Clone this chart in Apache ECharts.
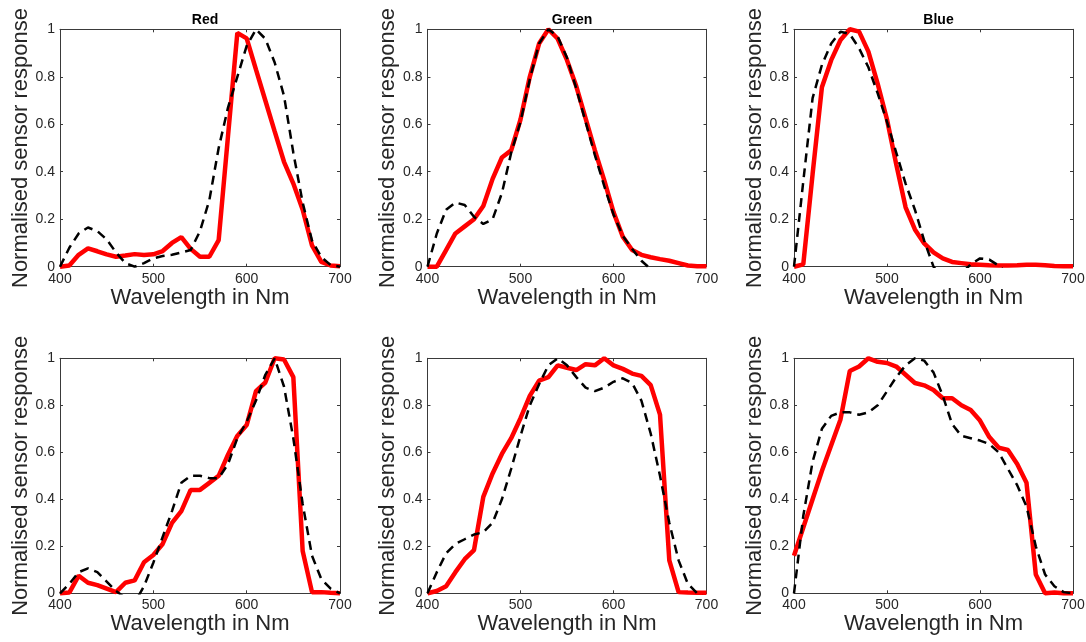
<!DOCTYPE html>
<html>
<head>
<meta charset="utf-8">
<script src="https://cdn.jsdelivr.net/npm/echarts@6/dist/echarts.min.js"></script>
<style>
  html, body { margin: 0; background: #fff; }
  #chart { width: 1086px; height: 642px; }
</style>
</head>
<body>
<div id="chart"></div>
<script>
// wavelengths (nm)
const wavelength = [400, 410, 420, 430, 440, 450, 460, 470, 480, 490, 500, 510, 520, 530, 540, 550,
                    560, 570, 580, 590, 600, 610, 620, 630, 640, 650, 660, 670, 680, 690, 700];

const xTicks = [400, 500, 600, 700];
const yTicks = [0, 0.2, 0.4, 0.6, 0.8, 1];
const titles = ['Red', 'Green', 'Blue'];

// top row - solid red curves
const redTopSolid = [0, 0.005, 0.05, 0.077, 0.065, 0.052, 0.042, 0.047, 0.053, 0.049, 0.052, 0.066, 0.10, 0.125, 0.075, 0.042,
                     0.042, 0.112, 0.55, 0.985, 0.962, 0.83, 0.70, 0.57, 0.442, 0.35, 0.24, 0.09, 0.02, 0.005, 0.002];
const greenTopSolid = [0, 0, 0.07, 0.14, 0.17, 0.20, 0.256, 0.37, 0.46, 0.49, 0.62, 0.80, 0.94, 1.0, 0.96, 0.87,
                       0.76, 0.625, 0.49, 0.365, 0.23, 0.126, 0.07, 0.05, 0.04, 0.032, 0.025, 0.015, 0.005, 0.002, 0.002];
const blueTopSolid = [0, 0.01, 0.39, 0.756, 0.87, 0.955, 1.0, 0.99, 0.906, 0.77, 0.62, 0.43, 0.25, 0.157, 0.098, 0.06,
                      0.035, 0.02, 0.015, 0.01, 0.008, 0.006, 0.005, 0.005, 0.006, 0.008, 0.008, 0.006, 0.003, 0.002, 0.002];

// top row - dashed black curves
const redTopDashed = [0, 0.08, 0.14, 0.165, 0.15, 0.115, 0.06, 0.015, 0.0, 0.015, 0.035, 0.045, 0.05, 0.06, 0.07, 0.15,
                      0.28, 0.50, 0.67, 0.80, 0.93, 1.0, 0.96, 0.86, 0.72, 0.48, 0.27, 0.11, 0.04, 0.007, 0];
const greenTopDashed = [0, 0.14, 0.24, 0.27, 0.26, 0.21, 0.18, 0.20, 0.31, 0.48, 0.61, 0.79, 0.94, 1.0, 0.97, 0.88,
                        0.75, 0.61, 0.47, 0.34, 0.22, 0.13, 0.075, 0.025, -0.01, -0.03, -0.03, -0.03, -0.03, -0.03, -0.03];
const blueTopDashed = [0, 0.36, 0.71, 0.85, 0.94, 0.99, 0.98, 0.92, 0.84, 0.73, 0.61, 0.48, 0.35, 0.24, 0.11, 0.0,
                       -0.05, -0.06, -0.03, 0.01, 0.035, 0.03, 0.005, -0.03, -0.04, -0.04, -0.04, -0.04, -0.04, -0.04, -0.04];

// bottom row - solid red curves
const redBottomSolid = [0, 0.003, 0.075, 0.045, 0.035, 0.02, 0.005, 0.045, 0.055, 0.132, 0.163, 0.21, 0.30, 0.35, 0.44, 0.44,
                        0.47, 0.50, 0.59, 0.67, 0.716, 0.86, 0.897, 1.0, 0.995, 0.92, 0.18, 0.005, 0.005, 0.002, 0.0];
const greenBottomSolid = [0, 0.01, 0.03, 0.09, 0.145, 0.184, 0.41, 0.51, 0.593, 0.66, 0.745, 0.84, 0.905, 0.92, 0.97, 0.96,
                          0.95, 0.975, 0.97, 1.0, 0.97, 0.955, 0.935, 0.925, 0.886, 0.76, 0.14, 0.005, 0.003, 0.002, 0.002];
const blueBottomSolid = [0.16, 0.28, 0.40, 0.52, 0.63, 0.74, 0.946, 0.965, 1.0, 0.985, 0.98, 0.965, 0.93, 0.895, 0.885, 0.865,
                         0.83, 0.83, 0.80, 0.78, 0.735, 0.665, 0.62, 0.61, 0.55, 0.47, 0.08, 0.0, 0.003, 0.0, 0.0];

// bottom row - dashed black curves
const redBottomDashed = [0, 0.04, 0.09, 0.106, 0.09, 0.05, 0.01, -0.02, -0.04, 0.03, 0.13, 0.24, 0.35, 0.47, 0.50, 0.50,
                         0.49, 0.49, 0.55, 0.66, 0.73, 0.82, 0.93, 1.0, 0.88, 0.66, 0.38, 0.16, 0.06, 0.02, 0.0];
const greenBottomDashed = [0, 0.09, 0.17, 0.21, 0.23, 0.25, 0.26, 0.30, 0.40, 0.53, 0.67, 0.80, 0.89, 0.97, 1.0, 0.97,
                           0.92, 0.875, 0.86, 0.875, 0.90, 0.915, 0.895, 0.82, 0.68, 0.50, 0.30, 0.14, 0.04, 0.0, -0.02];
const blueBottomDashed = [0, 0.33, 0.56, 0.70, 0.755, 0.77, 0.77, 0.76, 0.77, 0.80, 0.86, 0.92, 0.97, 1.0, 0.99, 0.94,
                          0.84, 0.72, 0.67, 0.66, 0.65, 0.635, 0.60, 0.53, 0.46, 0.37, 0.20, 0.08, 0.03, 0.005, 0.0];

const panels = [
    [redTopSolid, redTopDashed], [greenTopSolid, greenTopDashed], [blueTopSolid, blueTopDashed],
    [redBottomSolid, redBottomDashed], [greenBottomSolid, greenBottomDashed], [blueBottomSolid, blueBottomDashed]
];

const font = 'Liberation Sans, Arial, Helvetica, sans-serif';
const axisColor = '#3a3a3a';
const textColor = '#262626';

const colLeft = [60, 427.5, 794];
const colWidth = [280, 279, 279];
const rowTop = [29.3, 358.3];
const rowHeight = [237.4, 235];

function pairs(ys) {
    return wavelength.map(function (w, k) { return [w, ys[k]]; });
}

var chartDom = document.getElementById('chart');
var myChart = echarts.init(chartDom);

var grids = [], xAxes = [], yAxes = [], series = [], title = [];

panels.forEach(function (p, i) {
    var col = i % 3, row = Math.floor(i / 3);
    grids.push({
        left: colLeft[col], top: rowTop[row], width: colWidth[col], height: rowHeight[row],
        containLabel: false, outerBoundsMode: 'none'
    });

    var lineCommon = { show: true, onZero: false, lineStyle: { color: axisColor, width: 1 } };
    var tickCommon = { show: true, inside: true, length: 3, lineStyle: { color: axisColor, width: 1 } };

    // bottom + top x axes
    xAxes.push({
        type: 'value', gridIndex: i, position: 'bottom',
        min: xTicks[0], max: xTicks[xTicks.length - 1], interval: 100,
        axisLine: lineCommon, axisTick: tickCommon, splitLine: { show: false },
        axisLabel: { show: true, margin: 5, color: textColor, fontSize: 14, fontFamily: font },
        name: 'Wavelength in Nm', nameLocation: 'middle', nameGap: 19,
        nameTextStyle: { fontSize: 22, color: textColor, fontFamily: font }
    });
    xAxes.push({
        type: 'value', gridIndex: i, position: 'top',
        min: xTicks[0], max: xTicks[xTicks.length - 1], interval: 100,
        axisLine: lineCommon, axisTick: tickCommon, splitLine: { show: false },
        axisLabel: { show: false }
    });

    // left + right y axes
    yAxes.push({
        type: 'value', gridIndex: i, position: 'left',
        min: yTicks[0], max: yTicks[yTicks.length - 1], interval: 0.2,
        axisLine: lineCommon, axisTick: tickCommon, splitLine: { show: false },
        axisLabel: { show: true, margin: 5, color: textColor, fontSize: 14, fontFamily: font },
        name: 'Normalised sensor response', nameLocation: 'middle', nameGap: 27,
        nameTextStyle: { fontSize: 22, color: textColor, fontFamily: font }
    });
    yAxes.push({
        type: 'value', gridIndex: i, position: 'right',
        min: yTicks[0], max: yTicks[yTicks.length - 1], interval: 0.2,
        axisLine: lineCommon, axisTick: tickCommon, splitLine: { show: false },
        axisLabel: { show: false }
    });

    series.push({
        type: 'line', xAxisIndex: i * 2, yAxisIndex: i * 2,
        data: pairs(p[0]), showSymbol: false, clip: false, silent: true,
        lineStyle: { color: '#ff0000', width: 4.5 }, z: 2
    });
    series.push({
        type: 'line', xAxisIndex: i * 2, yAxisIndex: i * 2,
        data: pairs(p[1]), showSymbol: false, clip: true, silent: true,
        lineStyle: { color: '#000000', width: 2.5, type: [9, 6] }, z: 3
    });

    if (row === 0) {
        title.push({
            text: titles[col], left: colLeft[col] + colWidth[col] / 2, top: 8, textAlign: 'center',
            textStyle: { fontSize: 14, fontWeight: 'bold', color: '#000', fontFamily: font }
        });
    }
});

var option = {
    backgroundColor: '#ffffff',
    animation: false,
    title: title,
    grid: grids,
    xAxis: xAxes,
    yAxis: yAxes,
    series: series
};

option && myChart.setOption(option);
</script>
</body>
</html>
